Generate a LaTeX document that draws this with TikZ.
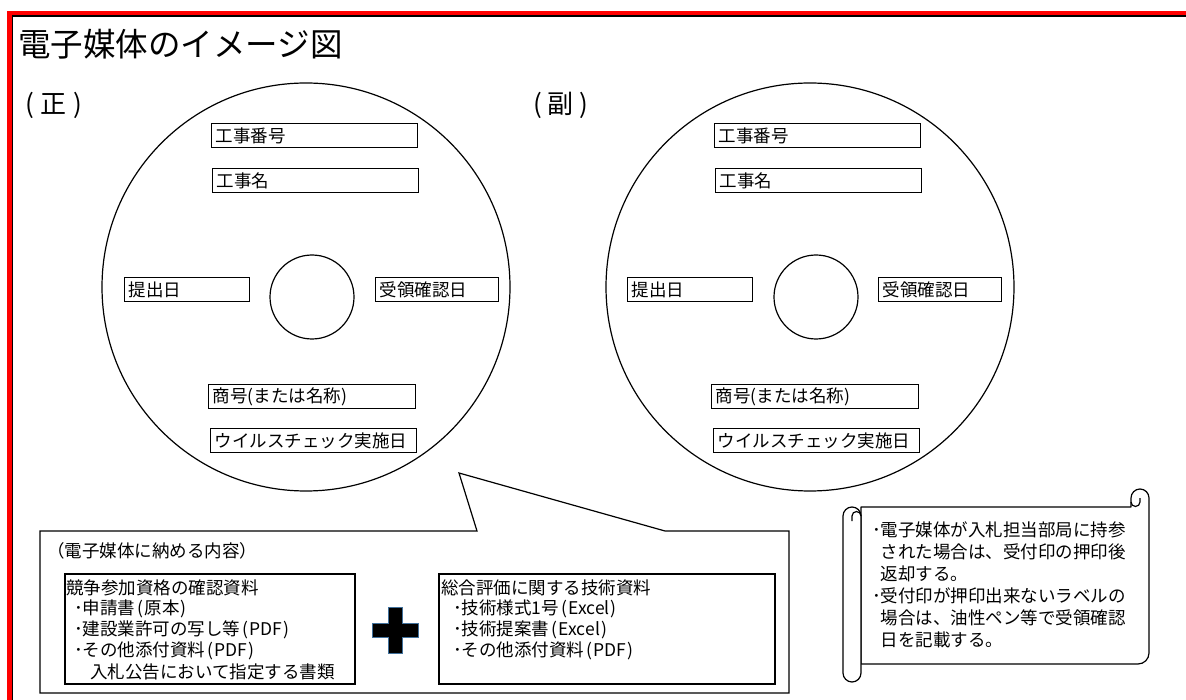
\documentclass[tikz,border=0pt]{standalone}
\usepackage{fontspec}
\setmainfont{Noto Sans CJK JP}
\newcommand\myfs[1]{\fontsize{#1}{#1}\selectfont}
\newcommand\mylp{\hspace{2pt}(\hspace{1.5pt}}
\newcommand\myrp{\hspace{1pt})}
\begin{document}
\begin{tikzpicture}[x=1pt,y=-1pt,
  txt/.style={inner sep=0, anchor=west, font=\myfs{17.5}},
  lbox/.style={draw, line width=1.3, inner xsep=4, inner ysep=0, minimum height=24, anchor=north west, align=left, font=\myfs{17.5}},
  disc/.style={circle, draw, line width=1.2, inner sep=0},
  cbox/.style={draw, line width=2, inner sep=0, anchor=north west},
  thin/.style={line width=1.2}]
\useasboundingbox (0,0) rectangle (1186,700);
\fill[white] (0,0) rectangle (1186,700);
% frame
\draw[red, line width=4.5] (9.5,702) -- (9.5,13) -- (1188,13);
\draw[black, line width=1.5] (12.5,702) -- (12.5,15.8) -- (1188,15.8);
% titles
\node[txt, font=\myfs{32.5}] (title) at (18,44) {電子媒体のイメージ図};
\node[txt, font=\myfs{26}] (sei) at (25,105) {(\hspace{7pt}正\hspace{7pt})};
\node[txt, font=\myfs{26}] (fuku) at (533,105) {(\hspace{6pt}副\hspace{6pt})};
% left disc
\node[disc, minimum size=408] (d1) at (306,287) {};
\node[disc, minimum size=84] (h1) at (312,297) {};
\node[lbox, text width=198] (a1) at (211,123) {工事番号};
\node[lbox, text width=198] (a2) at (212,168) {工事名};
\node[lbox, text width=117] (a3) at (124,277) {提出日};
\node[lbox, text width=115] (a4) at (375,277) {受領確認日};
\node[lbox, text width=199] (a5) at (208,384) {商号(または名称)};
\node[lbox, text width=198] (a6) at (210,428) {ウイルスチェック実施日};
% right disc
\node[disc, minimum size=408] (d2) at (810,287) {};
\node[disc, minimum size=84] (h2) at (816,297) {};
\node[lbox, text width=198] (b1) at (714,123) {工事番号};
\node[lbox, text width=198] (b2) at (715,168) {工事名};
\node[lbox, text width=117] (b3) at (627,277) {提出日};
\node[lbox, text width=115] (b4) at (878,277) {受領確認日};
\node[lbox, text width=199] (b5) at (711,384) {商号(または名称)};
\node[lbox, text width=198] (b6) at (713,428) {ウイルスチェック実施日};
% callout
\draw[thin, fill=white] (40,531) -- (477,531) -- (459,473) -- (665,531) -- (789,531) -- (789,693) -- (40,693) -- cycle;
\node[txt] (ctitle) at (47,551) {（電子媒体に納める内容）};
\node[cbox, minimum width=290, minimum height=110] (box1) at (64,573) {};
\node[txt] (l11) at (66,588) {競争参加資格の確認資料};
\node[txt] (l12) at (74,609) {･申請書\mylp 原本\myrp};
\node[txt] (l13) at (74,630) {･建設業許可の写し等\mylp PDF\myrp};
\node[txt] (l14) at (74,651) {･その他添付資料\mylp PDF\myrp};
\node[txt] (l15) at (90,672) {入札公告において指定する書類};
\node[cbox, minimum width=336, minimum height=110] (box2) at (438,573) {};
\node[txt] (l21) at (441,588) {総合評価に関する技術資料};
\node[txt] (l22) at (453,609) {･技術様式1号\mylp Excel\myrp};
\node[txt] (l23) at (453,630) {･技術提案書\mylp Excel\myrp};
\node[txt] (l24) at (453,651) {･その他添付資料\mylp PDF\myrp};
% plus
\draw[fill=black, draw={rgb,255:red,65;green,113;blue,156}, line width=1]
  (388,607) -- (402,607) -- (402,623) -- (418,623) -- (418,637) -- (402,637) -- (402,653)
  -- (388,653) -- (388,637) -- (372,637) -- (372,623) -- (388,623) -- cycle;
% scroll
\draw[thin, fill=white, line join=round]
  (861,507) -- (1131,507) -- (1131,498) arc[start angle=180, end angle=360, radius=9]
  -- (1149,653) arc[start angle=0, end angle=90, radius=11] -- (861,664) -- cycle;
\draw[thin] (1140,498) -- (1140,502) arc[start angle=0, end angle=180, radius=4.5];
\draw[thin, fill=white]
  (843,516) arc[start angle=180, end angle=360, radius=9] -- (861,673)
  arc[start angle=0, end angle=180, radius=9] -- cycle;
\draw[thin] (852,521) -- (852,516) arc[start angle=180, end angle=360, radius=4.5] -- (861,516);
\node[txt] (s1) at (872,530) {･電子媒体が入札担当部局に持参};
\node[txt] (s2) at (872,552) {\phantom{･}された場合は、受付印の押印後};
\node[txt] (s3) at (872,574) {\phantom{･}返却する。};
\node[txt] (s4) at (872,596) {･受付印が押印出来ないラベルの};
\node[txt] (s5) at (872,618) {\phantom{･}場合は、油性ペン等で受領確認};
\node[txt] (s6) at (872,640) {\phantom{･}日を記載する。};
\end{tikzpicture}
\end{document}
